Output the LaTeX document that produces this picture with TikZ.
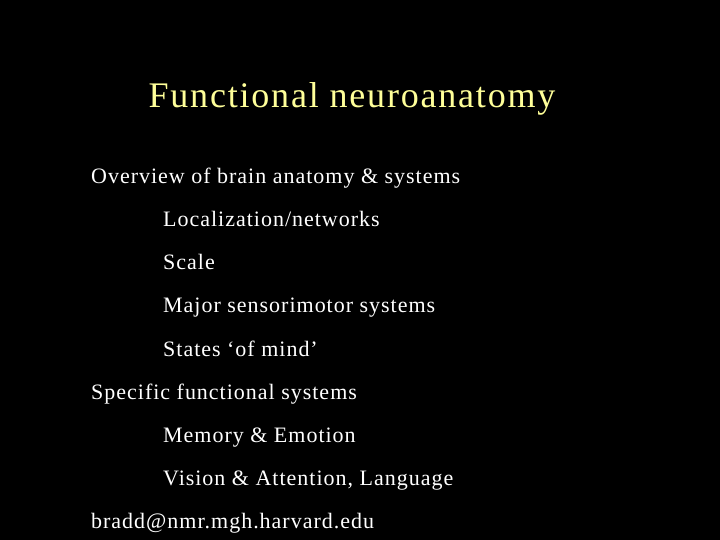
\documentclass[tikz,border=0pt]{standalone}
\usepackage{fontspec}
\setmainfont{Liberation Serif}
\newfontfamily\bodyf[LetterSpace=4.5]{Liberation Serif}
\newfontfamily\titlef[LetterSpace=5]{Liberation Serif}
\definecolor{titley}{RGB}{255,255,153}
\begin{document}
\begin{tikzpicture}[x=1pt,y=-1pt,
  txt/.style={anchor=base west,inner sep=0pt,text=white,font=\bodyf\fontsize{22}{26}\selectfont}]
\fill[black] (0,0) rectangle (720,540);
\useasboundingbox (0,0) rectangle (720,540);
\node[anchor=base,inner sep=0pt,text=titley,font=\titlef\fontsize{36}{40}\selectfont] (title) at (352,108) {Functional neuroanatomy};
\node[txt] (a) at (91,184) {Overview of brain anatomy \& systems};
\node[txt] (b) at (163,226) {Localization/networks};
\node[txt] (c) at (163,269) {Scale};
\node[txt] (d) at (163,312) {Major sensorimotor systems};
\node[txt] (e) at (163,356) {States ‘of mind’};
\node[txt] (f) at (91,399) {Specific functional systems};
\node[txt] (g) at (163,442) {Memory \& Emotion};
\node[txt] (h) at (163,485) {Vision \& Attention, Language};
\node[txt] (i) at (91,528) {bradd@nmr.mgh.harvard.edu};
\end{tikzpicture}
\end{document}
